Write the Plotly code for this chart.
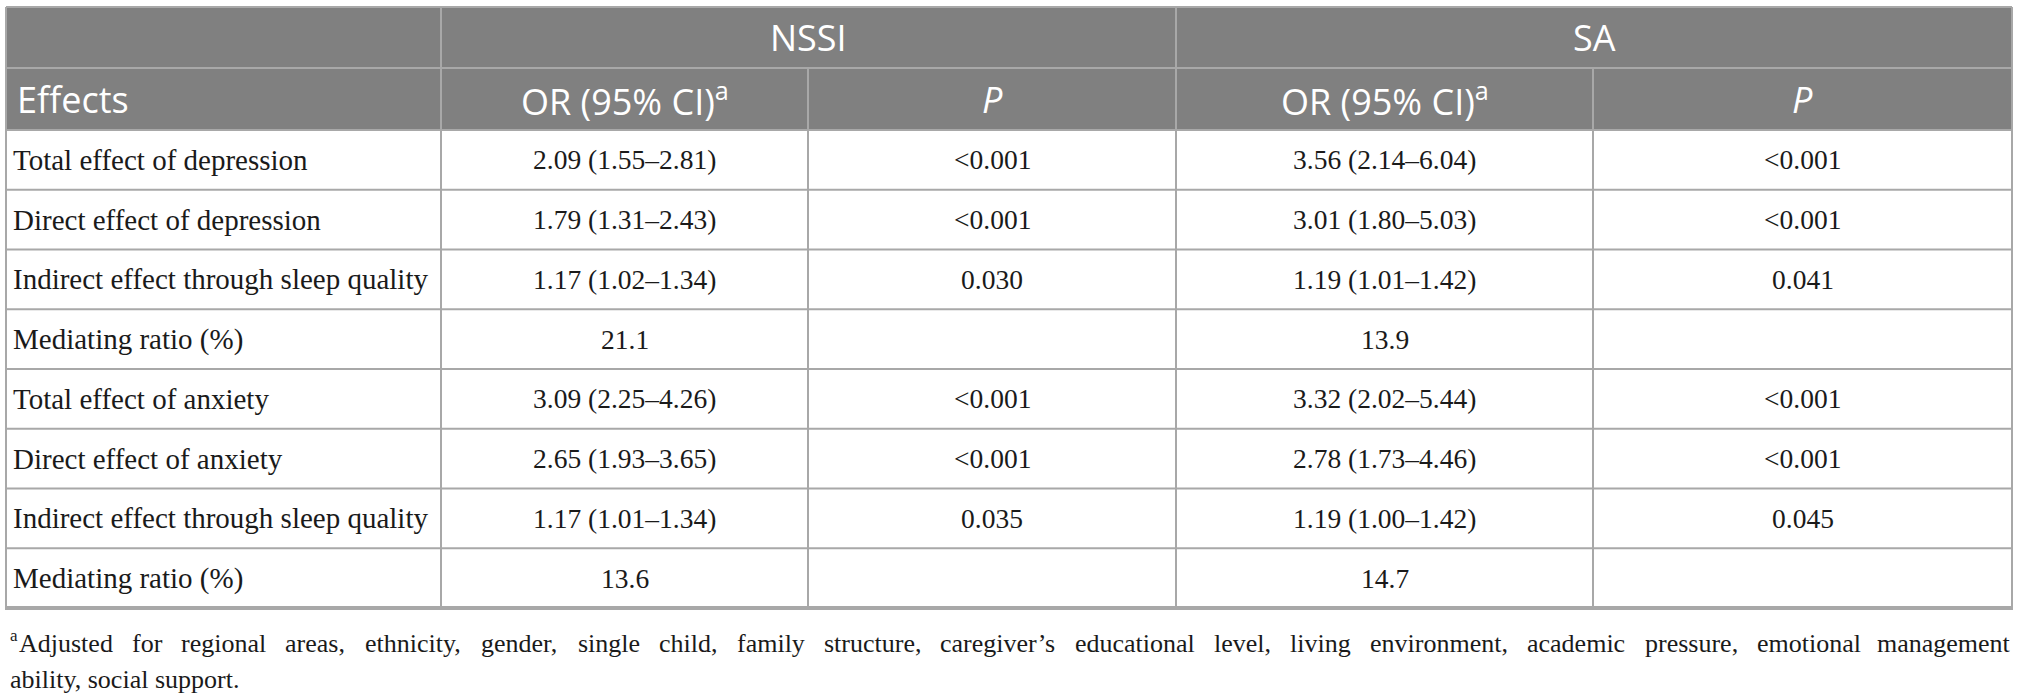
"""Mediation of sleep quality between depression/anxiety and NSSI/SA, drawn as a table."""
import plotly.graph_objects as go

# --- table content -------------------------------------------------------
effects = [
    "Total effect of depression",
    "Direct effect of depression",
    "Indirect effect through sleep quality",
    "Mediating ratio (%)",
    "Total effect of anxiety",
    "Direct effect of anxiety",
    "Indirect effect through sleep quality",
    "Mediating ratio (%)",
]
nssi_or = ["2.09 (1.55–2.81)", "1.79 (1.31–2.43)", "1.17 (1.02–1.34)", "21.1",
           "3.09 (2.25–4.26)", "2.65 (1.93–3.65)", "1.17 (1.01–1.34)", "13.6"]
nssi_p = ["<0.001", "<0.001", "0.030", "", "<0.001", "<0.001", "0.035", ""]
sa_or = ["3.56 (2.14–6.04)", "3.01 (1.80–5.03)", "1.19 (1.01–1.42)", "13.9",
         "3.32 (2.02–5.44)", "2.78 (1.73–4.46)", "1.19 (1.00–1.42)", "14.7"]
sa_p = ["<0.001", "<0.001", "0.041", "", "<0.001", "<0.001", "0.045", ""]

group_labels = ["NSSI", "SA"]
sub_labels = ["Effects", "OR (95% CI)<sup>a</sup>", "<i>P</i>", "OR (95% CI)<sup>a</sup>", "<i>P</i>"]

footnote_mark = "a"
footnote_line1 = ("Adjusted for regional areas, ethnicity, gender, single child, family structure, "
                  "caregiver’s educational level, living environment, academic pressure, emotional management")
footnote_line2 = "ability, social support."

# --- geometry ------------------------------------------------------------
W, H = 2017, 700
col_edges = [6, 441, 808, 1176, 1593, 2012]
top, head_mid, head_bot, table_bot = 7, 68, 130, 608
row_h = (table_bot - head_bot) / len(effects)

HEAD_BG = "#808080"
LINE = "#a8a8a8"
INK = "#1a1a1a"
SERIF = "Liberation Serif"
SANS = "Open Sans"
LABEL_SIZE = 29   # first column
VALUE_SIZE = 27.5  # numeric columns
NOTE_SIZE = 26
HEAD_SIZE = 36

fig = go.Figure()
shapes = []
annotations = []

# header background
shapes.append(dict(type="rect", x0=col_edges[0], x1=col_edges[-1], y0=top, y1=head_bot,
                   fillcolor=HEAD_BG, line_width=0, layer="below"))


def hline(y, x0, x1, width=2):
    shapes.append(dict(type="line", x0=x0, x1=x1, y0=y, y1=y, line=dict(color=LINE, width=width)))


def vline(x, y0, y1, width=2):
    shapes.append(dict(type="line", x0=x, x1=x, y0=y0, y1=y1, line=dict(color=LINE, width=width)))


def label(x, y, text, size, family, color=INK, anchor="center"):
    annotations.append(dict(x=x, y=y, text=text, showarrow=False, borderpad=0,
                            font=dict(family=family, size=size, color=color),
                            xanchor=anchor, yanchor="middle"))


# horizontal rules
hline(top, col_edges[0], col_edges[-1])
hline(head_mid, col_edges[0], col_edges[-1])
hline(head_bot, col_edges[0], col_edges[-1])
for i in range(1, len(effects)):
    hline(head_bot + i * row_h, col_edges[0], col_edges[-1])
hline(table_bot, col_edges[0] - 1, col_edges[-1] + 1, width=4)

# vertical rules
vline(col_edges[0], top, table_bot)
vline(col_edges[-1], top, table_bot)
vline(col_edges[1], top, table_bot)
vline(col_edges[3], top, table_bot)
vline(col_edges[2], head_mid, table_bot)
vline(col_edges[4], head_mid, table_bot)

# header row 1: group names
for k, lab in enumerate(group_labels):
    x0, x1 = col_edges[1 + 2 * k], col_edges[3 + 2 * k]
    label((x0 + x1) / 2, (top + head_mid) / 2, lab, HEAD_SIZE, SANS, color="white")

# header row 2: column titles
for j, lab in enumerate(sub_labels):
    if j == 0:
        label(col_edges[0] + 10, (head_mid + head_bot) / 2, lab, HEAD_SIZE, SANS,
              color="white", anchor="left")
    else:
        label((col_edges[j] + col_edges[j + 1]) / 2, (head_mid + head_bot) / 2, lab,
              HEAD_SIZE, SANS, color="white")

# body cells
columns = [effects, nssi_or, nssi_p, sa_or, sa_p]
for j, col in enumerate(columns):
    for i, val in enumerate(col):
        if not val:
            continue
        yc = head_bot + (i + 0.5) * row_h
        txt = val.replace("<", "&lt;")
        if j == 0:
            label(col_edges[0] + 6, yc, txt, LABEL_SIZE, SERIF, anchor="left")
        else:
            label((col_edges[j] + col_edges[j + 1]) / 2, yc, txt, VALUE_SIZE, SERIF)

# footnote, first line justified word by word (Times metrics, per 1000 em)
TIMES = {" ": 250, "a": 444, "b": 500, "c": 444, "d": 500, "e": 444, "f": 333, "g": 500, "h": 500,
         "i": 278, "j": 278, "k": 500, "l": 278, "m": 778, "n": 500, "o": 500, "p": 500, "q": 500,
         "r": 333, "s": 389, "t": 278, "u": 500, "v": 500, "w": 722, "x": 500, "y": 500, "z": 444,
         "A": 722, ",": 250, ".": 250, "’": 333}


def text_w(s):
    return sum(TIMES.get(c, 500) for c in s) * NOTE_SIZE / 1000


note_y1, note_y2 = 643, 679
left, right = col_edges[0] + 3, col_edges[-1]
mark_w = 444 * 17 / 1000 + 1
label(left, note_y1 - 8, footnote_mark, 17, SERIF, anchor="left")

words = footnote_line1.split(" ")
widths = [text_w(w) for w in words]
start = left + mark_w
gap = (right - start - sum(widths)) / (len(words) - 1)
x = start
for k, w in enumerate(words):
    if k == len(words) - 1:
        label(right, note_y1, w, NOTE_SIZE, SERIF, anchor="right")
    else:
        label(x, note_y1, w, NOTE_SIZE, SERIF, anchor="left")
    x += widths[k] + gap

label(left, note_y2, footnote_line2, NOTE_SIZE, SERIF, anchor="left")

fig.update_layout(
    width=W, height=H,
    margin=dict(l=0, r=0, t=0, b=0),
    paper_bgcolor="white", plot_bgcolor="white",
    xaxis=dict(range=[0, W], visible=False, fixedrange=True),
    yaxis=dict(range=[H, 0], visible=False, fixedrange=True),
    shapes=shapes,
    annotations=annotations,
    showlegend=False,
)

# drop the default page margin so the 2017x700 figure fills the window exactly
fig.write_html("out.html", config={"displayModeBar": False},
               post_script="document.body.style.margin='0';")
